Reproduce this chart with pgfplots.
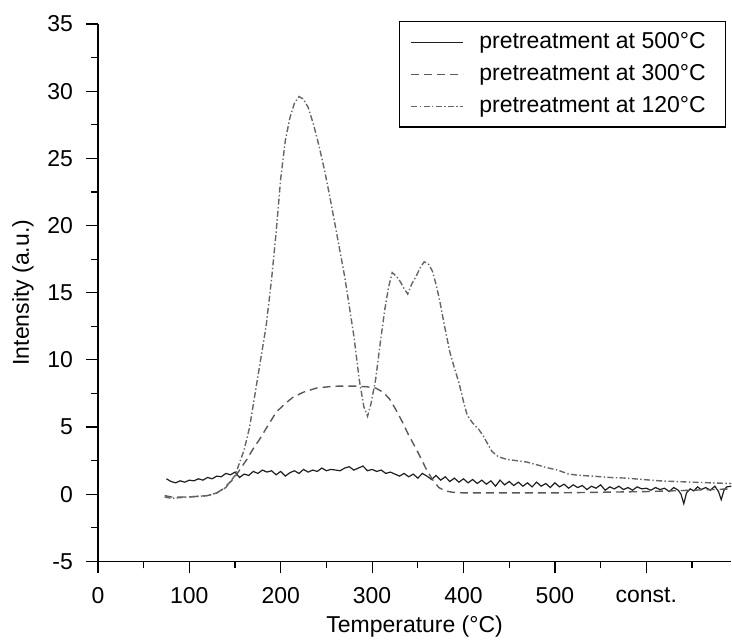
\documentclass[border=0pt]{standalone}
\usepackage{fontspec}
\setmainfont{Liberation Sans}
\usepackage{pgfplots}
\pgfplotsset{compat=1.18}
\definecolor{cdash}{gray}{0.35}
\definecolor{cdot}{gray}{0.4}
\definecolor{csol}{gray}{0.12}
\begin{document}
\begin{tikzpicture}
\begin{axis}[
  name=main,
  scale only axis, width=317pt, height=269pt,
  xmin=0, xmax=693, ymin=-5, ymax=35,
  axis x line*=bottom, axis y line*=left,
  tick align=outside,
  xtick={0,100,200,300,400,500,600}, xticklabels={0,100,200,300,400,500,const.},
  minor xtick={50,150,250,350,450,550,650},
  ytick={-5,0,5,10,15,20,25,30,35}, yticklabels={-5,0,5,10,15,20,25,30,35},
  minor ytick={-2.5,2.5,7.5,12.5,17.5,22.5,27.5,32.5},
  major tick length=6pt, minor tick length=3.5pt,
  every tick/.style={black, line width=0.6pt},
  axis line style={black, line width=0.7pt},
  /pgf/number format/assume math mode=true,
  tick label style={font=\fontsize{11.5}{13}\selectfont},
  xticklabel style={yshift=-3.5pt},
  yticklabel style={xshift=-3pt},
  label style={font=\fontsize{11.5}{13}\selectfont},
  xlabel={Temperature (°C)}, ylabel={Intensity (a.u.)},
  xlabel style={at={(axis description cs:0.5,0)}, anchor=center, yshift=-32.5pt},
  ylabel style={at={(axis description cs:0,0.5)}, anchor=center, yshift=37.5pt},
  legend cell align=left,
  legend style={at={(rel axis cs:0.992,1.005)}, anchor=north east, draw=black, line width=0.6pt,
    font=\fontsize{11.5}{13}\selectfont, row sep=2.5pt, inner xsep=3pt, inner ysep=3.5pt},
  legend image code/.code={\path[draw=none] (-3pt,0pt) -- (32pt,0pt); \draw[#1, line width=0.6pt] (0pt,0pt) -- (26pt,0pt);},
]
\addplot[csol, line width=0.6pt] coordinates {
(75,1.15)(80,0.95)(85,0.85)(90,1.0)(95,0.9)(100,1.05)(105,1.0)(110,1.15)(115,1.05)(120,1.25)
(125,1.15)(130,1.35)(135,1.3)(140,1.55)(145,1.45)(150,1.65)(155,1.25)(160,1.5)(165,1.4)(170,1.7)
(175,1.55)(180,1.8)(185,1.65)(190,1.75)(195,1.45)(200,1.7)(205,1.35)(210,1.6)(215,1.75)(220,1.55)
(225,1.85)(230,1.65)(235,1.8)(240,1.7)(245,1.95)(250,1.75)(255,1.85)(260,1.8)(265,1.75)(270,1.95)
(275,2.05)(280,1.8)(285,1.95)(290,2.1)(295,1.75)(300,1.85)(305,1.7)(310,1.8)(315,1.55)(320,1.65)
(325,1.5)(330,1.35)(335,1.55)(340,1.3)(345,1.5)(350,1.2)(355,1.55)(360,1.35)(365,1.1)(370,1.4)
(375,1.05)(380,1.3)(385,0.95)(390,1.2)(395,0.9)(400,1.15)(405,0.85)(410,1.1)(415,0.8)(420,1.05)
(425,0.75)(430,1.0)(435,0.6)(440,1.05)(445,0.7)(450,0.95)(455,0.65)(460,0.9)(465,0.6)(470,0.85)
(475,0.55)(480,0.9)(485,0.6)(490,0.8)(495,0.5)(500,0.85)(505,0.55)(510,0.75)(515,0.45)(520,0.7)
(525,0.5)(530,0.65)(535,0.35)(540,0.6)(545,0.45)(550,0.7)(555,0.3)(560,0.55)(565,0.4)(570,0.6)
(575,0.35)(580,0.5)(585,0.3)(590,0.55)(595,0.4)(600,0.45)(605,0.3)(610,0.5)(615,0.35)(620,0.45)
(625,0.2)(630,0.5)(635,0.3)(638,0.0)(641,-0.7)(644,0.1)(648,0.4)(652,0.25)(656,0.55)(660,0.35)
(665,0.5)(670,0.3)(675,0.6)(679,0.2)(682,-0.4)(685,0.3)(688,0.55)(693,0.6)
};
\addlegendentry{pretreatment at 500°C\hspace*{5pt}}
\addplot[cdash, line width=0.7pt, dash pattern=on 4pt off 2.5pt] coordinates {
(73,-0.1)(80,-0.2)(90,-0.2)(100,-0.2)(110,-0.15)(120,-0.1)(130,0.1)(137,0.4)(143,0.8)(148,1.1)
(155,1.8)(163,2.6)(170,3.4)(177,4.1)(185,5.0)(195,6.1)(204,6.7)(213,7.2)(225,7.6)(239,7.9)
(252,8.0)(264,8.05)(280,8.05)(294,8.0)(304,7.9)(312,7.6)(319,7.1)(326,6.3)(333,5.4)(340,4.4)
(348,3.4)(354,2.6)(359,1.9)(366,1.1)(373,0.5)(380,0.25)(388,0.15)(400,0.1)(420,0.1)(450,0.1)
(500,0.1)(550,0.15)(600,0.2)(650,0.3)(693,0.4)
};
\addlegendentry{pretreatment at 300°C\hspace*{5pt}}
\addplot[cdot, line width=0.7pt, dash pattern=on 3pt off 1.2pt on 0.7pt off 1.2pt] coordinates {
(73,-0.2)(80,-0.3)(90,-0.25)(100,-0.2)(110,-0.15)(120,-0.1)(130,0.1)(140,0.5)(150,1.4)(160,3.3)
(166,5.0)(172,7.5)(178,10)(184,12.5)(190,16)(195,19.5)(200,23.5)(205,26.3)(210,28)(215,29.1)
(220,29.6)(225,29.4)(230,28.8)(236,27.5)(242,25.9)(248,24.1)(253,22.4)(258,20.6)(264,18.4)(270,16.2)
(275,14)(280,11.8)(286,8.5)(291,6.5)(295,5.8)(299,6.8)(304,8.6)(309,11.3)(314,13.8)(318,15.4)
(322,16.5)(327,16.2)(331,15.8)(335,15.3)(339,14.9)(343,15.6)(348,16.2)(353,16.9)(357,17.3)(362,17.1)
(366,16.6)(370,15.6)(374,14.4)(379,12.6)(385,10.6)(390,9.4)(395,8.3)(400,6.9)(404,5.9)(410,5.3)
(417,4.8)(422,4.3)(426,3.8)(431,3.2)(438,2.8)(447,2.6)(458,2.5)(469,2.4)(480,2.2)(490,2.0)
(503,1.8)(515,1.5)(528,1.4)(541,1.35)(560,1.25)(578,1.2)(596,1.1)(614,1.0)(632,0.95)(650,0.9)
(670,0.85)(693,0.8)
};
\addlegendentry{pretreatment at 120°C\hspace*{5pt}}
\end{axis}
\path ([xshift=-49pt,yshift=12pt]main.north west);
\end{tikzpicture}
\end{document}
